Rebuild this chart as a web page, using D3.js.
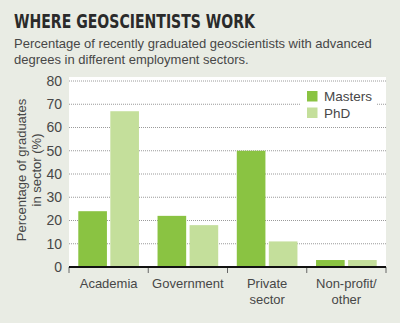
<!DOCTYPE html>
<html><head><meta charset="utf-8">
<script src="https://cdn.jsdelivr.net/npm/d3@7"></script>
<style>
html,body{margin:0;padding:0;background:#e9ece4;}
svg{display:block;}
</style></head>
<body>
<svg id="c" width="400" height="323"></svg>
<script>
const categories = [["Academia"], ["Government"], ["Private", "sector"], ["Non-profit/", "other"]];
const seriesNames = ["Masters", "PhD"];
const masters = [24, 22, 50, 3];
const phd = [67, 18, 11, 3];
const yTicks = [0, 10, 20, 30, 40, 50, 60, 70, 80];
const colors = ["#8ac342", "#c4df9b"];

(function () {
const svg = d3.select("#c");
const W = 400, H = 323;
svg.append("rect").attr("width", W).attr("height", H).attr("fill", "#e9ece4");

const pLeft = 69, pRight = 386, pTop = 77, pBottom = 267;
const font = "'Liberation Sans', Arial, sans-serif";
const txt = "#474747";

// title
svg.append("text").attr("x", 14).attr("y", 28)
  .attr("font-family", "'Liberation Sans Narrow', 'DejaVu Sans Condensed', sans-serif")
  .attr("font-weight", "bold").attr("font-size", 19.5).attr("fill", "#2a2a2a")
  .attr("textLength", 241).attr("lengthAdjust", "spacingAndGlyphs")
  .text("WHERE GEOSCIENTISTS WORK");

const sub = ["Percentage of recently graduated geoscientists with advanced", "degrees in different employment sectors."];
sub.forEach((s, i) => {
  svg.append("text").attr("x", 14).attr("y", 47.5 + i * 16)
    .attr("font-family", font).attr("font-size", 13).attr("fill", txt)
    .text(s);
});

// plot background
svg.append("rect").attr("x", pLeft).attr("y", pTop).attr("width", pRight - pLeft).attr("height", pBottom - pTop).attr("fill", "#fff");

const y = d3.scaleLinear().domain([0, 80]).range([pBottom, 81]);
const x0 = d3.scaleBand().domain(d3.range(categories.length)).range([pLeft, pRight]).paddingInner(0).paddingOuter(0);
const x1 = d3.scaleBand().domain(seriesNames).range([0, x0.bandwidth()]).paddingInner(0.106).paddingOuter(0.29);

// gridlines
svg.append("g").selectAll("line").data(yTicks.filter(t => t > 0)).join("line")
  .attr("x1", pLeft).attr("x2", pRight)
  .attr("y1", d => y(d)).attr("y2", d => y(d))
  .attr("stroke", "#9a9a9a").attr("stroke-width", 1).attr("stroke-dasharray", "1,1");

// bars
const data = seriesNames.map((s, i) => ({ name: s, values: i === 0 ? masters : phd, color: colors[i] }));
data.forEach(s => {
  svg.append("g").selectAll("rect").data(s.values).join("rect")
    .attr("x", (d, i) => x0(i) + x1(s.name))
    .attr("width", x1.bandwidth())
    .attr("y", d => y(d))
    .attr("height", d => y(0) - y(d))
    .attr("fill", s.color);
});

// y axis labels
const yAxis = d3.axisLeft(y).tickValues(yTicks).tickSize(0).tickPadding(7);
const ya = svg.append("g").attr("transform", `translate(${pLeft},0)`).call(yAxis);
ya.select(".domain").remove();
ya.selectAll("text").attr("font-family", font).attr("font-size", 14).attr("fill", txt);

// x axis
const bounds = d3.range(categories.length + 1).map(i => pLeft + i * x0.step());
svg.append("g").selectAll("line").data(bounds).join("line")
  .attr("x1", d => d).attr("x2", d => d).attr("y1", pBottom).attr("y2", pBottom + 6)
  .attr("stroke", "#666").attr("stroke-width", 1);
svg.append("line").attr("x1", pLeft).attr("x2", pRight).attr("y1", pBottom).attr("y2", pBottom)
  .attr("stroke", "#111").attr("stroke-width", 2);

categories.forEach((lines, i) => {
  const t = svg.append("text").attr("text-anchor", "middle")
    .attr("font-family", font).attr("font-size", 13).attr("fill", txt);
  lines.forEach((l, j) => {
    t.append("tspan").attr("x", x0(i) + x0.bandwidth() / 2).attr("y", 288 + j * 15.5).text(l);
  });
});

// y title
const yt = svg.append("text").attr("transform", "rotate(-90)")
  .attr("text-anchor", "middle").attr("font-family", font).attr("font-size", 13).attr("fill", txt);
["Percentage of graduates", "in sector (%)"].forEach((l, j) => {
  yt.append("tspan").attr("x", -170).attr("y", 26 + j * 15).text(l);
});

// legend
svg.append("rect").attr("x", 300).attr("y", 85).attr("width", 76).attr("height", 37).attr("fill", "#fff");
data.forEach((s, i) => {
  svg.append("rect").attr("x", 307).attr("y", 91 + i * 16.5).attr("width", 10.5).attr("height", 10.5).attr("fill", s.color);
  svg.append("text").attr("x", 324).attr("y", 101 + i * 16.5)
    .attr("font-family", font).attr("font-size", 13.5).attr("fill", txt).text(s.name);
});
})();
</script>
</body></html>
